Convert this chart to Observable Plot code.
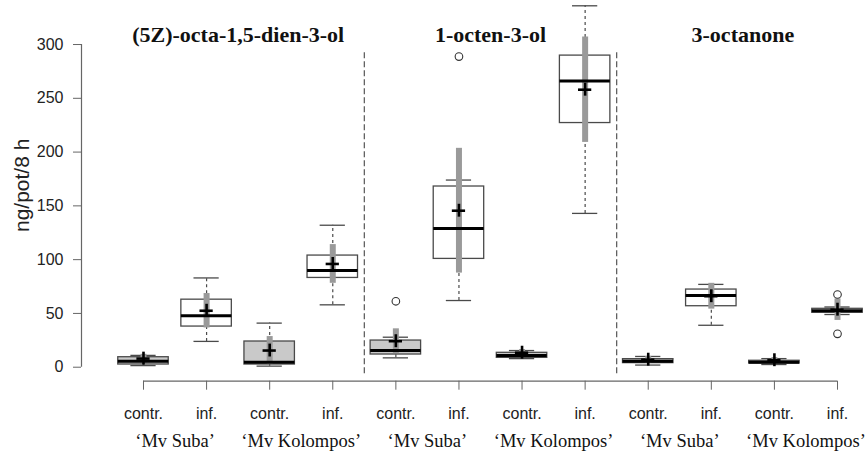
<!DOCTYPE html>
<html>
<head>
<meta charset="utf-8">
<script src="https://cdn.jsdelivr.net/npm/d3@7"></script>
<script src="https://cdn.jsdelivr.net/npm/@observablehq/plot@0.6"></script>
<style>
  html, body { margin: 0; padding: 0; background: #fff; }
  #chart { width: 865px; height: 455px; }
</style>
</head>
<body>
<div id="chart"></div>
<script>
// ---- data ----
const compounds = ["(5Z)-octa-1,5-dien-3-ol", "1-octen-3-ol", "3-octanone"];
const cultivars = ["‘Mv Suba’", "‘Mv Kolompos’"];
const treatments = ["contr.", "inf."];

// one value per box, order: compound > cultivar > treatment
const whiskerLow  = [1.5, 24, 1, 58,   8.7, 62, 8, 143,   2, 39, 2.5, 49];
const quart1      = [2.5, 37.8, 2.5, 83,   11.8, 100.7, 8.7, 227,   3.8, 56.7, 3.5, 50.6];
const medians     = [5.6, 47.8, 4.7, 90,   15.5, 129, 10.9, 266,   5.6, 66.6, 4.6, 52.5];
const quart3      = [9.3, 62.8, 23.9, 103.8,   24.8, 168, 13.4, 289.7,   7.5, 72.2, 6, 54.3];
const whiskerHigh = [11, 83, 41, 132,   27.9, 174, 15.5, 336,   10, 77, 8, 56];
const means       = [8, 52.5, 15.5, 96,   24.2, 145.5, 13.5, 258,   7, 66, 6.5, 53.5];
const sds         = [4, 16, 13, 18,   11.5, 58, 3, 49,   3, 12, 2.5, 10];
const outlierBox  = [4, 5, 11, 11];
const outlierVal  = [61.3, 288.8, 67.6, 31];
const yTicks = [0, 50, 100, 150, 200, 250, 300];
const yTitle = "ng/pot/8 h";

// ---- build table ----
const rows = [];
compounds.forEach((comp, g) => cultivars.forEach((cv, c) => treatments.forEach((tr, t) => {
  const i = rows.length;
  rows.push({i, comp, cv, tr, lo: whiskerLow[i], q1: quart1[i], med: medians[i], q3: quart3[i],
             hi: whiskerHigh[i], mean: means[i], sd: sds[i]});
})));
const xLabels = rows.map(d => d.tr);
const outliers = outlierBox.map((b, k) => ({i: b, v: outlierVal[k]}));
const cvLabels = [];
compounds.forEach((comp, g) => cultivars.forEach((cv, c) => cvLabels.push({x: 4 * g + 2 * c + 0.5, cv})));
const titles = compounds.map((comp, g) => ({x: 4 * g + 1.5, comp}));
const separators = [3.5, 7.5];

// ---- layout ----
const W = 865, H = 455;
const mL = 81, mR = 28, mT = 1, mB = 74.3;
const xMin = -0.9827, xMax = rows.length - 1;
const yMin = -13, yMax = 340;
const bw = 0.4, cw = 0.2, pw = 0.105, ph = 6;
const boxStroke = "#4a4a4a";

const chart = Plot.plot({
  width: W, height: H,
  marginLeft: mL, marginRight: mR, marginTop: mT, marginBottom: mB,
  style: {fontFamily: "Liberation Sans, Arial, sans-serif", background: "#fff", overflow: "visible"},
  x: {domain: [xMin, xMax], range: [mL, W - mR]},
  y: {domain: [yMin, yMax], range: [H - mB, mT]},
  marks: [
    // axes
    Plot.axisY({ticks: yTicks, tickSize: 8, tickPadding: 10, fontSize: 16, label: null, stroke: "#666", color: "#222"}),
    Plot.ruleX([xMin], {y1: d3.min(yTicks), y2: d3.max(yTicks), stroke: "#666", strokeWidth: 1.2}),
    Plot.axisX({ticks: d3.range(rows.length), tickFormat: i => xLabels[i], tickSize: 9, tickPadding: 17,
                fontSize: 16, label: null, stroke: "#666", color: "#222"}),
    Plot.ruleY([yMin], {x1: 0, x2: xMax, stroke: "#666", strokeWidth: 1.2}),
    // group separators
    Plot.ruleX(separators, {y1: -6, y2: 294, stroke: "#555", strokeWidth: 1.2, strokeDasharray: "6,3"}),
    // whiskers
    Plot.ruleX(rows, {x: "i", y1: "q3", y2: "hi", stroke: boxStroke, strokeWidth: 1.2, strokeDasharray: "3,3"}),
    Plot.ruleX(rows, {x: "i", y1: "lo", y2: "q1", stroke: boxStroke, strokeWidth: 1.2, strokeDasharray: "3,3"}),
    Plot.ruleY(rows, {y: "hi", x1: d => d.i - cw, x2: d => d.i + cw, stroke: boxStroke, strokeWidth: 1.3}),
    Plot.ruleY(rows, {y: "lo", x1: d => d.i - cw, x2: d => d.i + cw, stroke: boxStroke, strokeWidth: 1.3}),
    // boxes
    Plot.rect(rows, {x1: d => d.i - bw, x2: d => d.i + bw, y1: "q1", y2: "q3",
                     fill: d => d.tr === treatments[0] ? "#c9c9c9" : "#fff", stroke: boxStroke, strokeWidth: 1.3}),
    // mean ± sd bar
    Plot.ruleX(rows, {x: "i", y1: d => d.mean - d.sd, y2: d => d.mean + d.sd, stroke: "#9a9a9a", strokeWidth: 6}),
    // median
    Plot.ruleY(rows, {y: "med", x1: d => d.i - bw, x2: d => d.i + bw, stroke: "#000", strokeWidth: 3}),
    // mean plus
    Plot.ruleY(rows, {y: "mean", x1: d => d.i - pw, x2: d => d.i + pw, stroke: "#000", strokeWidth: 2.6}),
    Plot.ruleX(rows, {x: "i", y1: d => d.mean - ph, y2: d => d.mean + ph, stroke: "#000", strokeWidth: 2.6}),
    // outliers
    Plot.dot(outliers, {x: "i", y: "v", r: 3.8, stroke: "#333", strokeWidth: 1.1, fill: "none"}),
    // cultivar labels
    Plot.text(cvLabels, {x: "x", text: "cv", frameAnchor: "bottom", dy: 66, fontSize: 18.5,
                         fontFamily: "Liberation Serif, Times New Roman, serif", fill: "#111"}),
    // compound titles
    Plot.text(titles, {x: "x", text: "comp", frameAnchor: "top", dy: 25, fontSize: 22, fontWeight: "bold",
                       fontFamily: "Liberation Serif, Times New Roman, serif", fill: "#111"}),
    // y title
    Plot.text([yTitle], {frameAnchor: "left", textAnchor: "middle", dx: -59, dy: -6, rotate: -90,
                         fontSize: 21, fill: "#222"})
  ]
});
document.getElementById("chart").appendChild(chart);
</script>
</body>
</html>
